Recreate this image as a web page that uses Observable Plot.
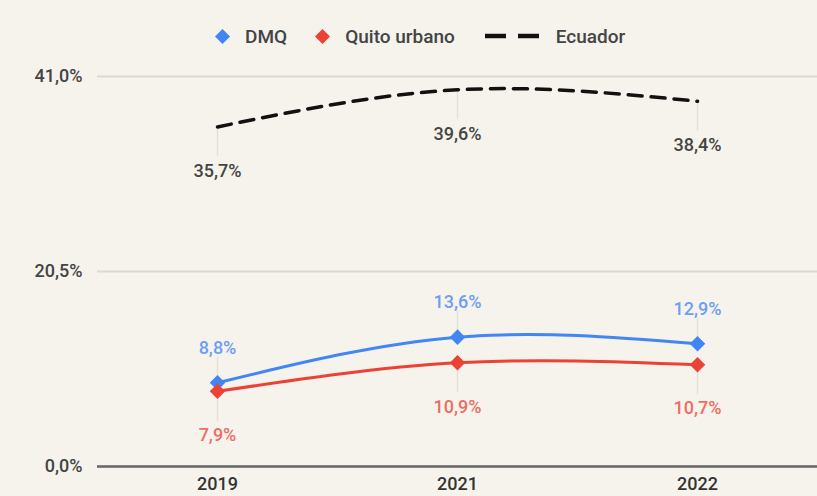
<!DOCTYPE html>
<html><head><meta charset="utf-8">
<script src="https://cdn.jsdelivr.net/npm/d3@7"></script>
<script src="https://cdn.jsdelivr.net/npm/@observablehq/plot@0.6"></script>
<style>
html,body{margin:0;padding:0;background:#f6f3ec;}
body{width:817px;height:496px;overflow:hidden;font-family:Roboto,"Liberation Sans",Arial,sans-serif;}
#legend{position:relative;height:56px;}
#legend .row{position:absolute;left:215px;top:26px;height:20px;display:flex;align-items:center;font-size:19px;font-weight:500;color:#444;white-space:nowrap;}
.item{display:flex;align-items:center;}
</style></head>
<body>
<div id="legend"><div class="row"></div></div>
<div id="chart"></div>
<script>
const years = ["2019", "2021", "2022"];
const dmq = [8.8, 13.6, 12.9];
const quito = [7.9, 10.9, 10.7];
const ecuador = [35.7, 39.6, 38.4];
const yTicks = [0, 20.5, 41];
const seriesNames = ["DMQ", "Quito urbano", "Ecuador"];

const colors = {"DMQ": "#4285f4", "Quito urbano": "#ea4335", "Ecuador": "#111"};
const labelColors = {"DMQ": "#6d9ef5", "Quito urbano": "#ee6d64", "Ecuador": "#444"};

const rows = [];
[dmq, quito, ecuador].forEach((arr, si) => arr.forEach((v, i) => rows.push({series: seriesNames[si], year: years[i], value: v})));
const fmt = v => v.toFixed(1).replace(".", ",") + "%";

// legend
document.querySelector("#legend .row").innerHTML = `
<div class="item"><svg width="15" height="15" style="margin-right:15px"><path d="M7.5 0L15 7.5L7.5 15L0 7.5Z" fill="#4285f4"/></svg>DMQ</div>
<div class="item" style="margin-left:28px"><svg width="15" height="15" style="margin-right:15px"><path d="M7.5 0L15 7.5L7.5 15L0 7.5Z" fill="#ea4335"/></svg>Quito urbano</div>
<div class="item" style="margin-left:30px"><svg width="54" height="14" style="margin-right:17px"><line x1="0" y1="7" x2="54" y2="7" stroke="#111" stroke-width="4.5" stroke-dasharray="21,12"/></svg>Ecuador</div>`;

const pxPerUnit = 390 / 41;
const above = rows.filter(d => d.series === "DMQ");
const below = rows.filter(d => d.series !== "DMQ");
const ff = "Roboto, 'Liberation Sans', Arial, sans-serif";

const plot = Plot.plot({
  width: 817,
  height: 440,
  marginLeft: 97,
  marginRight: 0,
  marginTop: 20,
  marginBottom: 30,
  style: {background: "transparent", fontFamily: ff},
  x: {type: "point", domain: years, padding: 0.5, label: null},
  y: {domain: [0, 41], label: null},
  marks: [
    Plot.gridY(yTicks, {stroke: "#dcd9d2", strokeOpacity: 1, strokeWidth: 2}),
    Plot.axisY(yTicks, {tickFormat: fmt, tickSize: 0, tickPadding: 15, fontSize: 18, fontWeight: 500, fill: "#444", label: null}),
    Plot.axisX({tickSize: 0, tickPadding: 11, fontSize: 18, fill: "#333", fontWeight: 500, label: null}),
    Plot.ruleX(above, {x: "year", y1: "value", y2: d => d.value + 26 / pxPerUnit, stroke: "#e4e1da", strokeWidth: 1.5}),
    Plot.ruleX(below, {x: "year", y1: "value", y2: d => d.value - 30 / pxPerUnit, stroke: "#e4e1da", strokeWidth: 1.5}),
    Plot.ruleY([0], {stroke: "#666", strokeWidth: 2.5}),
    Plot.line(rows.filter(d => d.series === "Ecuador"), {x: "year", y: "value", curve: "natural", stroke: "#111", strokeWidth: 3.5, strokeDasharray: "14,9"}),
    Plot.line(rows.filter(d => d.series === "Quito urbano"), {x: "year", y: "value", curve: "natural", stroke: colors["Quito urbano"], strokeWidth: 3}),
    Plot.line(rows.filter(d => d.series === "DMQ"), {x: "year", y: "value", curve: "natural", stroke: colors["DMQ"], strokeWidth: 3}),
    Plot.dot(rows.filter(d => d.series !== "Ecuador"), {x: "year", y: "value", symbol: "diamond2", r: 7, fill: d => colors[d.series], stroke: null}),
    Plot.text(above, {x: "year", y: "value", text: d => fmt(d.value), dy: -35, fill: d => labelColors[d.series], fontSize: 18, fontWeight: 500}),
    Plot.text(below, {x: "year", y: "value", text: d => fmt(d.value), dy: 44, fill: d => labelColors[d.series], fontSize: 18, fontWeight: 500})
  ]
});
document.getElementById("chart").appendChild(plot);
</script>
</body></html>
